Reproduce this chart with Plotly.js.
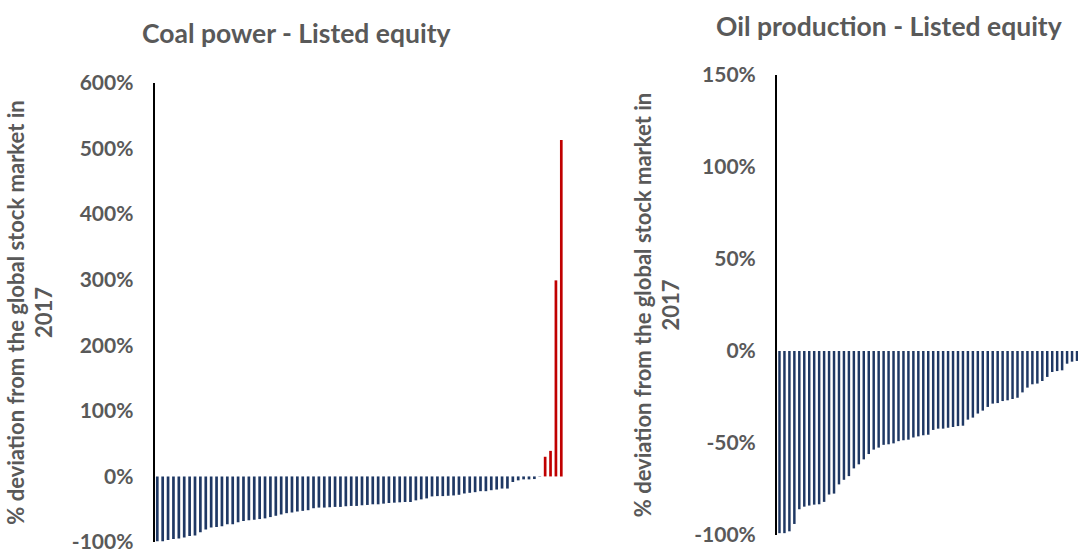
<!DOCTYPE html>
<html>
<head>
<meta charset="utf-8">
<script src="https://cdn.plot.ly/plotly-3.0.1.min.js"></script>
<style>
  html, body { margin: 0; padding: 0; background: #ffffff; }
  #chart { width: 1078px; height: 552px; }
</style>
</head>
<body>
<div id="chart"></div>
<script>
// ---- Data (percent deviation from the global stock market in 2017) ----
const coalTitle = "Coal power - Listed equity";
const oilTitle = "Oil production - Listed equity";
const yTitle = "% deviation from the global stock market in<br>2017";

const coalValues = [
  -99, -99, -97, -95.5, -94.5, -93, -91, -90, -85, -81,
  -78, -77, -76, -73, -73, -70, -68, -67, -66, -65,
  -64, -62, -60, -58, -56, -55, -53.5, -52.5, -51.5, -48.5,
  -47.5, -47.5, -47, -46.5, -46.5, -45.5,
  -45, -45, -44, -43.5, -42.5, -42.5, -41.5, -40.5, -40, -39.5, -39, -39,
  -36.5, -35, -33.5, -30.5, -30, -30, -29.5, -29, -28, -26, -25, -24,
  -22.5, -22.5, -21, -20, -18.5, -18.5,
  -8.5, -6, -4.5, -4.5, -4, -0.5,
  30, 39, 299, 513
];

const oilValues = [
  -99, -99, -98, -94, -86, -84.6, -84, -83.5, -83.3, -82,
  -78, -77.5, -72.5, -70, -68, -63.8, -61.6, -58.9, -56, -53.6,
  -52.5, -51, -50.7, -50.2, -49, -48.5, -48.2, -47, -46.4, -45.8,
  -45.5, -42.9, -42.2, -42.2, -41.7, -41.3, -40.8, -40.6, -37.3, -36.2,
  -34, -32.4, -30.4, -28.6, -28.3, -27.2, -26.8, -26.1, -25.4, -22.5,
  -19.9, -18.1, -17.7, -16.3, -14.1, -11.4, -10.9, -10.5, -6.9, -5.8,
  -5.4
];

const coalTicks = [-100, 0, 100, 200, 300, 400, 500, 600];
const oilTicks = [-100, -50, 0, 50, 100, 150];

// company positions (categories, ordered by deviation)
const coalCompanies = coalValues.map((_, i) => i);
const oilCompanies = oilValues.map((_, i) => i);

// ---- Styling ----
const BLUE = "#1F3864";
const RED = "#C00000";
const GREY = "#595959";
const FONT = "Lato, 'Open Sans', sans-serif";
const W = 1078, H = 552;
const px = v => v / W;
const py = v => 1 - v / H;

const coalColors = coalValues.map(v => v > 0 ? RED : BLUE);

const traces = [
  {
    type: "bar", x: coalCompanies, y: coalValues,
    marker: { color: coalColors, line: { width: 0 } },
    xaxis: "x", yaxis: "y", hoverinfo: "y"
  },
  {
    type: "bar", x: oilCompanies, y: oilValues,
    marker: { color: BLUE, line: { width: 0 } },
    xaxis: "x2", yaxis: "y2", hoverinfo: "y"
  }
];

const tickFont = { family: FONT, size: 21, color: GREY, weight: 700 };
const titleFont = { family: FONT, size: 22, color: GREY, weight: 700 };

function yAxis(domain, range, ticks, anchor, standoff) {
  return {
    domain: domain, range: range, anchor: anchor,
    tickmode: "array", tickvals: ticks, ticktext: ticks.map(t => t + "%"),
    tickfont: tickFont, ticks: "", showgrid: false, zeroline: false,
    showline: true, linecolor: "#000000", linewidth: 2,
    ticklabelstandoff: 15, ticklabeloverflow: "allow",
    title: { text: yTitle, font: titleFont, standoff: standoff },
    fixedrange: true
  };
}

function xAxis(domain, range, anchor) {
  return {
    domain: domain, range: range, anchor: anchor,
    showline: false, showticklabels: false, ticks: "", showgrid: false,
    zeroline: false, fixedrange: true, type: "linear"
  };
}

const layout = {
  width: W, height: H,
  margin: { l: 0, r: 0, t: 0, b: 0 },
  paper_bgcolor: "#ffffff", plot_bgcolor: "rgba(0,0,0,0)",
  showlegend: false,
  bargap: 0.5,
  font: { family: FONT, color: GREY },
  xaxis: xAxis([px(154.6), px(564)], [-0.5, 75.5], "y"),
  yaxis: yAxis([py(542), py(83)], [-100, 600], coalTicks, "x", 13),
  xaxis2: xAxis([px(777), 1], [-0.5, 60.2], "y2"),
  yaxis2: yAxis([py(535), py(75)], [-100, 150], oilTicks, "x2", 8),
  annotations: [
    {
      text: coalTitle, xref: "paper", yref: "paper",
      x: px(297), y: py(33), xanchor: "center", yanchor: "middle",
      showarrow: false, font: { family: FONT, size: 26.5, color: GREY, weight: 700 }
    },
    {
      text: oilTitle, xref: "paper", yref: "paper",
      x: px(889), y: py(26), xanchor: "center", yanchor: "middle",
      showarrow: false, font: { family: FONT, size: 26.5, color: GREY, weight: 700 }
    }
  ]
};

Plotly.newPlot("chart", traces, layout, { staticPlot: true, displayModeBar: false });
</script>
</body>
</html>
